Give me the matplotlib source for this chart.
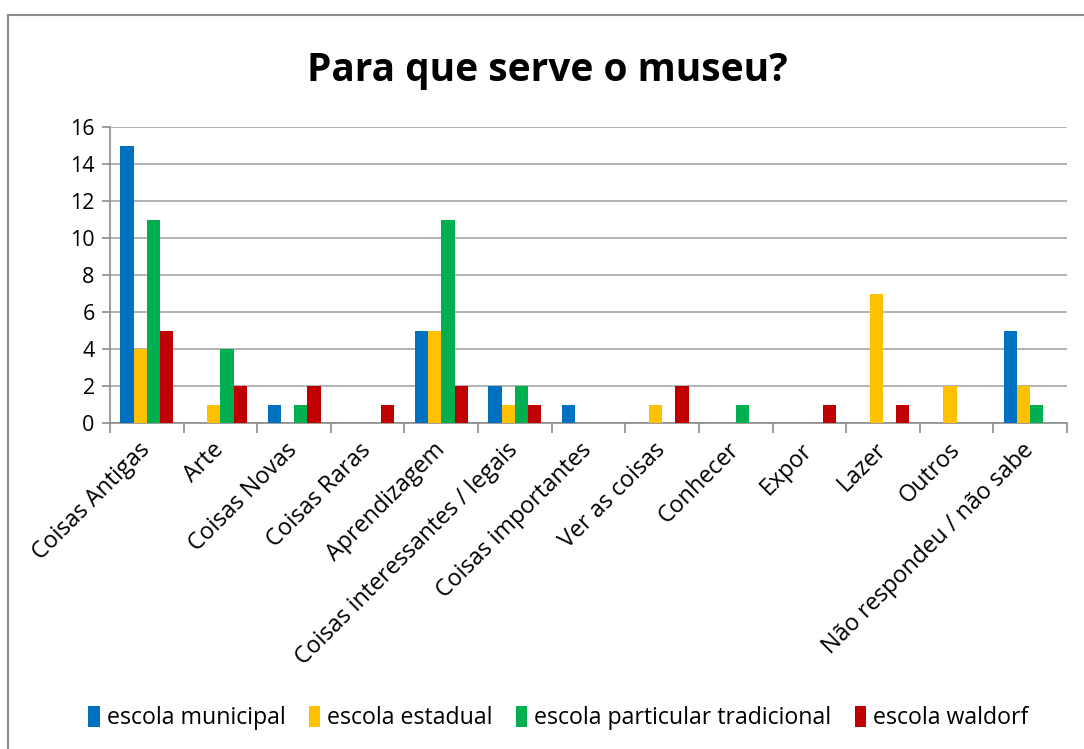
import numpy as np
import matplotlib
matplotlib.use('Agg')
import matplotlib.pyplot as plt
from matplotlib.patches import Rectangle

plt.rcParams['font.family'] = ['Open Sans', 'DejaVu Sans']

categorias = ['Coisas Antigas', 'Arte', 'Coisas Novas', 'Coisas Raras', 'Aprendizagem',
              'Coisas interessantes / legais', 'Coisas importantes', 'Ver as coisas',
              'Conhecer', 'Expor', 'Lazer', 'Outros', 'Não respondeu / não sabe']
municipal = [15, 0, 1, 0, 5, 2, 1, 0, 0, 0, 0, 0, 5]
estadual = [4, 1, 0, 0, 5, 1, 0, 1, 0, 0, 7, 2, 2]
particular = [11, 4, 1, 0, 11, 2, 0, 0, 1, 0, 0, 0, 1]
waldorf = [5, 2, 2, 1, 2, 1, 0, 2, 0, 1, 1, 0, 0]
series = ['escola municipal', 'escola estadual', 'escola particular tradicional', 'escola waldorf']
cores = ['#0070C0', '#FFC000', '#00B050', '#C00000']

fig = plt.figure(figsize=(10.84, 7.49), dpi=100)
ax = fig.add_axes([110/1084, 1-423/749, 957/1084, 296/749])

# moldura externa do grafico
fig.patches.append(Rectangle((8/1084, -0.1), 1.2, 1 - 15/749 + 0.1, transform=fig.transFigure,
                             fill=False, edgecolor='#8c8c8c', linewidth=1.5))

x = np.arange(len(categorias))
w = 0.18
for i, (vals, nome, cor) in enumerate(zip([municipal, estadual, particular, waldorf], series, cores)):
    ax.bar(x + (i - 1.5) * w, vals, width=w, color=cor, label=nome, zorder=3)

ax.set_xlim(-0.5, len(categorias) - 0.5)
ax.set_ylim(0, 16)
ax.set_yticks(range(0, 17, 2))
ax.yaxis.grid(True, color='#a6a6a6', linewidth=1.2, zorder=0)
ax.set_xticks(np.arange(-0.5, len(categorias), 1))
ax.set_xticklabels([])
ax.set_xticks(x, minor=True)
ax.set_xticklabels(categorias, minor=True, rotation=45, ha='right', va='center',
                   rotation_mode='anchor', fontsize=16.8)
ax.tick_params(axis='x', which='minor', length=0, pad=17)
ax.tick_params(axis='x', which='major', length=7, color='#8c8c8c', width=1.2)
ax.tick_params(axis='y', length=6, color='#8c8c8c', width=1.2, labelsize=15.5, pad=5)
for s in ['top', 'right']:
    ax.spines[s].set_visible(False)
for s in ['left', 'bottom']:
    ax.spines[s].set_color('#8c8c8c')
    ax.spines[s].set_linewidth(1.2)

fig.text(0.505, 1 - 70/749, 'Para que serve o museu?', ha='center', va='center',
         fontsize=28, fontweight='bold')

fig.legend(loc='center', bbox_to_anchor=(0.515, 1 - 718/749), ncol=4, frameon=False,
           fontsize=16.7, handlelength=0.5, handleheight=1.0, handletextpad=0.3, columnspacing=1.0)

fig.savefig('out.png', dpi=100)
